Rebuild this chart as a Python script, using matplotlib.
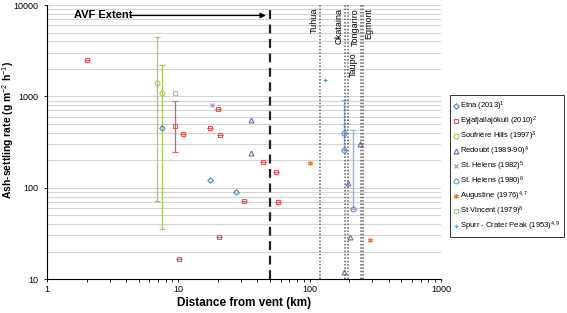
import matplotlib
matplotlib.use("Agg")
import matplotlib.pyplot as plt
from matplotlib.ticker import FuncFormatter, NullFormatter
import numpy as np

plt.rcParams['font.family'] = ['Liberation Sans', 'DejaVu Sans']
plt.rcParams['mathtext.fontset'] = 'custom'
plt.rcParams['mathtext.rm'] = 'Liberation Sans'
plt.rcParams['mathtext.it'] = 'Liberation Sans'
plt.rcParams['mathtext.bf'] = 'Liberation Sans:bold'

# Etna (2013)
etna_x = [7.55, 17.5, 27.7]
etna_y = [455, 121, 89]

# Eyjafjallajokull (2010)
eyja_x = [2.0, 9.5, 10.8, 20.0, 17.5, 20.8, 44.0, 55.0, 31.5, 57.0, 20.3, 10.2]
eyja_y = [2500, 470, 385, 735, 455, 381, 190, 150, 72, 70, 29, 16.4]
eyja_lo = [2500, 243, 385, 735, 455, 381, 190, 150, 72, 70, 29, 16.4]
eyja_hi = [2500, 900, 385, 735, 455, 381, 190, 150, 72, 70, 29, 16.4]

# Soufriere Hills (1997)
souf_x = [6.83, 7.46]
souf_y = [1410, 1100]
souf_lo = [71, 35.5]
souf_hi = [4450, 2220]

# Redoubt (1989-90)
redo_x = [35.5, 35.5, 242, 197, 202, 182]
redo_y = [547, 240, 299, 113, 29, 11.8]

# St. Helens (1982)
sh82_x = [18.1]
sh82_y = [798]

# St. Helens (1980)
sh80_x = [183, 183, 212]
sh80_y = [397, 257, 58]
sh80_lo = [397, 257, 58]
sh80_hi = [494, 920, 433]

# Augustine (1976)
aug_x = [100, 287]
aug_y = [185, 27]

# St Vincent (1979)
svin_x = [9.5]
svin_y = [1100]

# Spurr - Crater Peak (1953)
spurr_x = [131]
spurr_y = [1524]

# volcano centres
volc_names = ['Tuhua', 'Okataina', 'Taupo', 'Tongariro', 'Egmont']
volc_x = [120, 187, 195, 245, 256]
avf_x = 50

fig = plt.figure(figsize=(5.67, 3.13), dpi=100)
ax = fig.add_axes([0.0829, 0.1086, 0.6949, 0.8754])
ax.set_xscale('log')
ax.set_yscale('log')
ax.set_xlim(1, 1000)
ax.set_ylim(10, 10000)

plain = FuncFormatter(lambda v, p: '%g' % v)
ax.xaxis.set_major_formatter(plain)
ax.yaxis.set_major_formatter(plain)
ax.xaxis.set_minor_formatter(NullFormatter())
ax.yaxis.set_minor_formatter(NullFormatter())

ax.yaxis.grid(True, which='both', color='#d4d4d4', lw=0.8)
ax.set_axisbelow(True)
for s in ['top', 'right']:
    ax.spines[s].set_visible(False)
ax.tick_params(which='both', labelsize=6.5, length=2.5, width=0.6, pad=2)
ax.tick_params(axis='y', which='minor', length=0)
ax.tick_params(axis='y', pad=4)

def errs(y, lo, hi):
    y = np.array(y, dtype=float)
    return [y - np.array(lo), np.array(hi) - y]

ms = 3.5
handles = {}
c = ax.errorbar(eyja_x, eyja_y, yerr=errs(eyja_y, eyja_lo, eyja_hi), fmt='s', ms=ms,
                mfc='none', mec='#e05a5a', mew=0.8, ecolor='#e05a5a', elinewidth=0.9,
                capsize=2.5, capthick=0.8)
handles['Eyjafjallajökull (2010)$^{2}$'] = c[0]
c = ax.errorbar(souf_x, souf_y, yerr=errs(souf_y, souf_lo, souf_hi), fmt='o', ms=ms,
                mfc='none', mec='#a6c85a', mew=0.8, ecolor='#a6c85a', elinewidth=0.9,
                capsize=2.5, capthick=0.8)
handles['Soufrière Hills (1997)$^{3}$'] = c[0]
c = ax.errorbar(sh80_x, sh80_y, yerr=errs(sh80_y, sh80_lo, sh80_hi), fmt='o', ms=ms,
                mfc='none', mec='#5b8fd0', mew=0.8, ecolor='#8fb3e0', elinewidth=1.0,
                capsize=2.5, capthick=0.8)
handles['St. Helens (1980)$^{6}$'] = c[0]
handles['Etna (2013)$^{1}$'], = ax.plot(etna_x, etna_y, 'D', ms=2.8, mfc='none',
                                       mec='#4f7fbf', mew=0.8)
handles['Redoubt (1989-90)$^{4}$'], = ax.plot(redo_x, redo_y, '^', ms=ms, mfc='none',
                                             mec='#7a64a6', mew=0.8)
handles['St. Helens (1982)$^{5}$'], = ax.plot(sh82_x, sh82_y, 'x', ms=3, mec='#9c8cc6',
                                             mew=0.8)
handles['Augustine (1976)$^{4,7}$'], = ax.plot(aug_x, aug_y, ls='none', marker=(6, 2, 0),
                                              ms=3.5, mec='#e8803a', mew=0.9)
handles['St Vincent (1979)$^{8}$'], = ax.plot(svin_x, svin_y, 's', ms=ms, mfc='none',
                                             mec='#9ccd8a', mew=0.8)
handles['Spurr - Crater Peak (1953)$^{4,9}$'], = ax.plot(spurr_x, spurr_y, '+', ms=3.5,
                                                        mec='#4ba3d0', mew=0.8)

# AVF extent
ax.axvline(avf_x, color='#222222', lw=1.6, ls=(0, (4, 2.5)))
ax.annotate('', xy=(avf_x * 0.975, 7680), xytext=(4.15, 7680),
            arrowprops=dict(arrowstyle='-|>', color='black', lw=0.9, mutation_scale=8))
ax.text(1.61, 7680, 'AVF Extent', fontsize=8, fontweight='bold', va='center', ha='left')

# volcanic centres
offsets = [(-1, -2, 'right'), (-1, -2, 'right'), (1, -34, 'left'),
           (-1, -2, 'right'), (1, -2, 'left')]
for name, xv, (dx, dy, ha) in zip(volc_names, volc_x, offsets):
    ax.axvline(xv, color='#606060', lw=1.1, ls=(0, (1, 1.2)))
    ax.annotate(name, xy=(xv, 1.0), xycoords=('data', 'axes fraction'),
                xytext=(dx, dy), textcoords='offset points', rotation=90,
                ha=ha, va='top', fontsize=6.5)

ax.set_xlabel('Distance from vent (km)', fontsize=8.5, fontweight='bold', labelpad=2)
fig.text(8 / 567, 1 - 130 / 313, 'Ash-settling rate (g m$^{-2}$ h$^{-1}$)', fontsize=7.5,
         fontweight='bold', rotation=90, ha='center', va='center')

order = ['Etna (2013)$^{1}$', 'Eyjafjallajökull (2010)$^{2}$',
         'Soufrière Hills (1997)$^{3}$', 'Redoubt (1989-90)$^{4}$',
         'St. Helens (1982)$^{5}$', 'St. Helens (1980)$^{6}$',
         'Augustine (1976)$^{4,7}$', 'St Vincent (1979)$^{8}$',
         'Spurr - Crater Peak (1953)$^{4,9}$']
leg = fig.legend([handles[k] for k in order], order, loc='upper left',
                 bbox_to_anchor=(0.793, 0.695), fontsize=5.5, frameon=True,
                 fancybox=False, edgecolor='black', labelspacing=0.22,
                 handlelength=0.5, handletextpad=0.25, borderpad=0.55,
                 borderaxespad=0)
leg.get_frame().set_linewidth(0.7)

fig.savefig('out.png', dpi=100)
